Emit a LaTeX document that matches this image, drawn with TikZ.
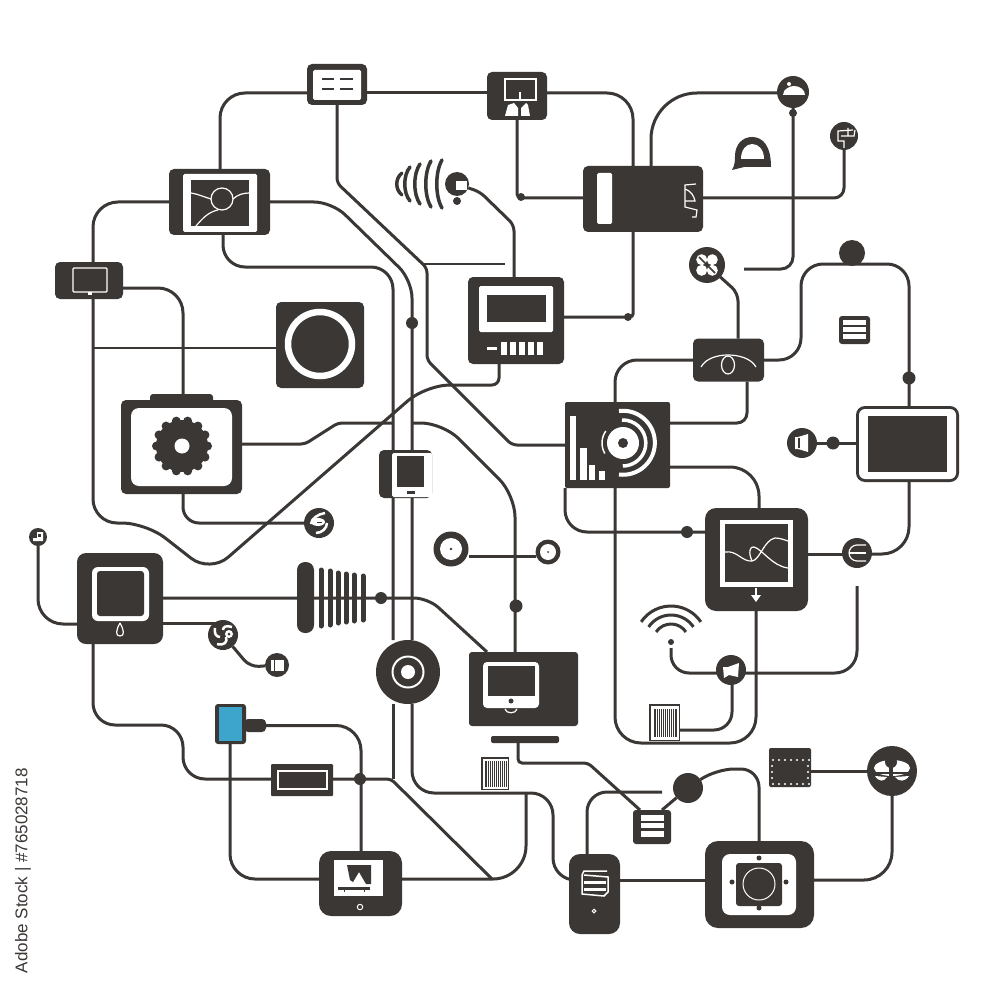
\documentclass[tikz,border=0pt]{standalone}
\usepackage{fontspec}
\newfontfamily\idfont{Liberation Sans}
\usetikzlibrary{backgrounds}
\definecolor{devdark}{RGB}{59,55,53}
\definecolor{devblue}{RGB}{61,165,204}
\tikzset{
  wire/.style={draw=devdark,line width=3pt},
  thinwire/.style={draw=devdark,line width=2pt},
  devbox/.style={fill=devdark,rounded corners=5pt,inner sep=0pt,outer sep=0pt},
  devdot/.style={circle,fill=devdark,inner sep=0pt,outer sep=0pt},
  inlay/.style={fill=white,rounded corners=1.5pt},
  hairline/.style={draw=white,line width=1.2pt},
}

\begin{document}
\begin{tikzpicture}[x=1pt,y=1pt,yscale=-1,xscale=1]
\useasboundingbox (0,0) rectangle (1000,1000);

% Devices
\node (top) [devbox,minimum width=60pt,minimum height=41pt] at (337,84.5) {};
\node (touch) [devbox,minimum width=60pt,minimum height=48pt] at (517,96) {};
\node (map) [devbox,minimum width=101pt,minimum height=66pt] at (219.5,202) {};
\node (hub) [devbox,minimum width=120pt,minimum height=66pt] at (643,199) {};
\node (small) [devbox,minimum width=68pt,minimum height=37pt] at (89,280.5) {};
\node (ringbox) [devbox,minimum width=88pt,minimum height=86pt] at (320,345) {};
\node (meter) [devbox,minimum width=96pt,minimum height=87pt] at (516,320.5) {};
\node (eye) [devbox,minimum width=71pt,minimum height=43pt] at (728.5,360) {};
\node (gearbox) [devbox,minimum width=121pt,minimum height=94pt] at (181.5,447) {};
\node (chart) [devbox,rounded corners=2pt,minimum width=105pt,minimum height=86pt] at (617.5,445) {};
\node (slate) [devbox,minimum width=53pt,minimum height=48pt] at (405.5,474) {};
\node (screen) [devbox,rounded corners=9pt,minimum width=103pt,minimum height=76pt] at (907.5,444) {};
\node (scope) [devbox,rounded corners=11pt,minimum width=103pt,minimum height=103pt] at (756.5,559.5) {};
\node (square) [devbox,rounded corners=9pt,minimum width=86pt,minimum height=91pt] at (120,598.5) {};
\node (monitor) [devbox,rounded corners=3pt,minimum width=109pt,minimum height=74pt] at (523.5,689) {};
\node (bluebox) [devbox,rounded corners=3pt,minimum width=31pt,minimum height=40pt] at (230.5,724) {};
\node (plug) [devbox,rounded corners=4pt,minimum width=22pt,minimum height=13pt] at (255,725.5) {};
\node (rect) [devbox,rounded corners=1pt,minimum width=62pt,minimum height=32pt] at (302,780) {};
\node (panel) [devbox,rounded corners=12pt,minimum width=83pt,minimum height=65pt] at (360.5,883.5) {};
\node (phone) [devbox,rounded corners=11pt,minimum width=51pt,minimum height=80pt] at (594.5,894) {};
\node (camera) [devbox,rounded corners=13pt,minimum width=109pt,minimum height=87pt] at (759.5,884.5) {};
\node (dotbox) [devbox,rounded corners=2pt,minimum width=42pt,minimum height=39pt] at (790,767.5) {};
\node (menu) [devbox,rounded corners=3pt,minimum width=38pt,minimum height=34pt] at (652,827) {};
\node (menusmall) [devbox,rounded corners=3pt,minimum width=31pt,minimum height=28pt] at (854.5,330) {};
\node (bar) [devbox,rounded corners=2pt,minimum width=68pt,minimum height=7pt] at (525,739.5) {};
\node (codeleft) [devbox,rounded corners=0pt,minimum width=28pt,minimum height=33pt] at (495,773.5) {};
\node (coderight) [devbox,rounded corners=0pt,minimum width=31pt,minimum height=37pt] at (664.5,722.5) {};

% Round parts
\node (disc) [devdot,minimum size=64pt] at (408,672) {};
\node (cap) [devdot,minimum size=32pt] at (793,92) {};
\node (capdot) [devdot,minimum size=8pt] at (793,113) {};
\node (pin) [devdot,minimum size=28pt] at (844,136) {};
\node (horn) [devdot,minimum size=24pt] at (457,184) {};
\node (horndot) [devdot,minimum size=8pt] at (457,201) {};
\node (clover) [devdot,minimum size=36pt] at (707,265) {};
\node (ball) [devdot,minimum size=26pt] at (852,253) {};
\node (balldot) [devdot,minimum size=13pt] at (909,378) {};
\node (speaker) [devdot,minimum size=30pt] at (802,443) {};
\node (speakerdot) [devdot,minimum size=13pt] at (833,443) {};
\node (meterdot) [devdot,minimum size=12pt] at (412,323) {};
\node (swirl) [devdot,minimum size=30pt] at (319,523) {};
\node (swirltwo) [devdot,minimum size=30pt] at (223,635) {};
\node (corner) [devdot,minimum size=18pt] at (38,537) {};
\node (stopper) [devdot,minimum size=24pt] at (277,665) {};
\node (vinyl) [devdot,minimum size=35pt] at (451,549) {};
\node (vinyltwo) [devdot,minimum size=25pt] at (548,552) {};
\node (chartdot) [devdot,minimum size=12pt] at (687,532) {};
\node (epin) [devdot,minimum size=30pt] at (857,553) {};
\node (combdot) [devdot,minimum size=12pt] at (381,598) {};
\node (monitordot) [devdot,minimum size=13pt] at (516,606) {};
\node (horntwo) [devdot,minimum size=30pt] at (731,670) {};
\node (wifidot) [devdot,minimum size=6pt] at (671,642) {};
\node (rectdot) [devdot,minimum size=12pt] at (360,779) {};
\node (blob) [devdot,minimum size=30pt] at (688,788) {};
\node (people) [devdot,minimum size=50pt] at (892,771) {};

% Free ends
\coordinate (joint) at (492,879);
\coordinate (stub) at (662,792);
\coordinate (hornstub) at (857,586);
\coordinate (capstub) at (744,269);
\coordinate (tapstub) at (505,264);

% Wires
\begin{scope}[on background layer]
\fill[white] (0,0) rectangle (1000,1000);
\draw[wire,rounded corners=25pt] (top.west |- 0,93) -- (220,93) -- (220,0 |- map.north);
\draw[wire] (top.east |- 0,93) -- (touch.west |- 0,93);
\draw[wire,rounded corners=5pt] (top.south) -- (337,183) -- (427,268) -- (427,360) -- (512,445) -- (chart.west |- 0,445);
\draw[thinwire] (423,264) -- (tapstub);
\draw[wire,rounded corners=18pt] (map.east |- 0,202) -- (332,202) -- (412,280) -- (412,0 |- disc.north);
\draw[wire,rounded corners=22pt] (412,0 |- disc.south) -- (412,793) -- (553,793) -- (553,880) -- (phone.west |- 0,880);
\draw[wire,rounded corners=22pt] (223,0 |- map.south) -- (223,267) -- (393,267) -- (393,0 |- disc.north);
\draw[wire] (393,0 |- disc.south) -- (393,779);
\draw[wire,rounded corners=4pt] (rect.east |- 0,779) -- (391,779) -- (joint);
\draw[wire,rounded corners=25pt] (93,0 |- small.north) -- (93,202) -- (map.west |- 0,202);
\draw[wire,rounded corners=25pt] (small.east |- 0,288) -- (183,288) -- (183,0 |- gearbox.north);
\draw[wire,rounded corners=24pt] (93,0 |- small.south) -- (93,523) -- (146,523) -- (210,573) -- (426,385) [rounded corners=7pt] -- (499,385) -- (499,0 |- meter.south);
\draw[thinwire] (93,348) -- (ringbox.west |- 0,348);
\draw[wire,rounded corners=4pt] (gearbox.east |- 0,444) -- (305,444) -- (338,423) -- (393,423);
\draw[wire,rounded corners=22pt] (412,423) -- (443,423) -- (515,495) -- (515,0 |- monitor.north);
\draw[wire,rounded corners=16pt] (183,0 |- gearbox.south) -- (183,523) -- (swirl);
\draw[wire,rounded corners=25pt] (corner) -- (38,624) -- (square.west |- 0,624);
\draw[wire,rounded corners=14pt] (square.east |- 0,598) -- (428,598) -- (487,0 |- monitor.north);
\draw[wire] (square.east |- 0,623) -- (swirltwo |- 0,623);
\draw[wire,rounded corners=9pt] (swirltwo) -- (250,667) -- (stopper);
\draw[wire,rounded corners=22pt] (93,0 |- square.south) -- (93,725) -- (183,725) -- (183,779) -- (rect.west |- 0,779);
\draw[wire,rounded corners=25pt] (plug.east) -- (361,725.5) -- (361,0 |- panel.north);
\draw[wire,rounded corners=25pt] (230,0 |- bluebox.south) -- (230,879) -- (panel.west |- 0,879);
\draw[wire,rounded corners=33pt] (panel.east |- 0,879) -- (526,879) -- (526,793);
\draw[wire,rounded corners=4pt] (518,0 |- bar.south) -- (518,763) -- (588,763) -- (640,0 |- menu.north);
\draw[wire] (662,0 |- menu.north) -- (blob);
\draw[wire,rounded corners=18pt] (blob) -- (716,769) -- (759,769) -- (759,0 |- camera.north);
\draw[wire,rounded corners=20pt] (587,0 |- phone.north) -- (587,792) -- (stub);
\draw[wire] (phone.east |- 0,880) -- (camera.west |- 0,880);
\draw[wire,rounded corners=28pt] (camera.east |- 0,880) -- (892,880) -- (people.south);
\draw[wire] (dotbox.east |- 0,771) -- (people.west |- 0,771);
\draw[wire,rounded corners=22pt] (615,0 |- chart.north) -- (615,360) -- (eye.west);
\draw[wire,rounded corners=26pt] (615,0 |- chart.south) -- (615,743) -- (756,743) -- (756,0 |- scope.south);
\draw[wire,rounded corners=22pt] (565,0 |- chart.south) -- (565,532) -- (scope.west |- 0,532);
\draw[wire,rounded corners=10pt] (chart.east |- 0,423) -- (747,423) -- (747,0 |- eye.south);
\draw[wire,rounded corners=29pt] (chart.east |- 0,467) -- (759,467) -- (759,0 |- scope.north);
\draw[wire] (scope.east |- 0,554) -- (epin |- 0,554);
\draw[wire,rounded corners=27pt] (epin |- 0,554) -- (909,554) -- (909,0 |- screen.south);
\draw[wire,rounded corners=22pt] (909,0 |- screen.north) -- (909,264) -- (801,264) -- (801,360) -- (eye.east);
\draw[wire] (screen.west |- 0,443) -- (speaker);
\draw[wire,rounded corners=8pt] (clover) -- (738,293) -- (738,0 |- eye.north);
\draw[wire,rounded corners=18pt] (671,648) -- (671,673) -- (horntwo |- 0,673);
\draw[wire,rounded corners=22pt] (horntwo |- 0,673) -- (857,673) -- (hornstub);
\draw[wire,rounded corners=18pt] (732,0 |- horntwo.south) -- (732,730) -- (coderight.east |- 0,730);
\draw[wire,rounded corners=46pt] (cap.west |- 0,93) -- (651,93) -- (651,0 |- hub.north);
\draw[wire,rounded corners=12pt] (cap.south) -- (793,269) -- (capstub);
\draw[wire,rounded corners=10pt] (pin.south) -- (844,198) -- (hub.east |- 0,198);
\draw[wire,rounded corners=26pt] (touch.east |- 0,93) -- (633,93) -- (633,0 |- hub.north);
\draw[wire,rounded corners=3pt] (633,0 |- hub.south) -- (633,317) -- (meter.east |- 0,317);
\draw[wire,rounded corners=4pt] (517,0 |- touch.south) -- (517,198) -- (hub.west |- 0,198);
\draw[wire,rounded corners=6pt] (horn) -- (480,192) -- (514,225) -- (514,0 |- meter.north);
\draw[wire] (vinyl.east |- 0,556) -- (vinyltwo.west |- 0,556);
\fill[devdark] (628,317) circle[radius=4];
\fill[devdark] (521,197) circle[radius=4];
\end{scope}

% Top box
\fill[inlay] (313,70) rectangle (361,100);
\draw[devdark,line width=2pt] (322,79) -- (334,79) (340,79) -- (353,79) (322,89) -- (334,89) (340,89) -- (353,89);
% Map
\fill[inlay] (183,174) rectangle (257,232);
\fill[devdark] (191,180) rectangle (249,226);
\draw[hairline] (222,199) circle[radius=11];
\draw[hairline] (191,193) .. controls (198,194) and (204,197) .. (211,199);
\draw[hairline] (233,199) .. controls (237,195) and (243,193) .. (249,193);
\draw[hairline] (218,210) .. controls (208,212) and (202,219) .. (196,226);
% Touch box
\draw[hairline] (505,79) rectangle (536,100);
\draw[white,line width=1.5pt] (520,92) -- (520,101);
\fill[white] (505,116) -- (508,105) -- (514,103) -- (518,108) -- (518,116) -- cycle;
\fill[white] (521,116) -- (521,108) -- (526,103) -- (528,105) -- (530,116) -- cycle;
% Hub
\fill[inlay] (597,173) rectangle (612,224);
\draw[hairline] (696,184) -- (685,185) -- (685,207) -- (697,210) -- (696,217) -- (692,217);
\draw[hairline] (685,189) .. controls (691,191) and (694,196) .. (695,201) -- (685,201);
% Dome
\fill[devdark] (732,170) .. controls (735,165) and (735,160) .. (735,156) .. controls (735,144) and (743,137) .. (752,137) .. controls (763,137) and (771,146) .. (771,167) -- (744,167) -- cycle;
\fill[white] (741,159) .. controls (741,150) and (746,144) .. (752,144) .. controls (759,144) and (764,150) .. (764,159) -- cycle;
% Cap circle
\fill[white] (783,95) .. controls (783,89) and (790,86) .. (794,86) .. controls (800,86) and (805,90) .. (805,95) -- cycle;
\fill[white] (789,84) circle[radius=2];
% Pin circle
\draw[hairline] (853,130) -- (838,131) -- (838,141) -- (844,141) -- (844,148);
\draw[hairline] (841,136) -- (854,136) -- (855,130) (848,136) -- (848,128);
% Horn
\fill[white] (456,181) rectangle (467,190);
\foreach \x/\h in {402/11,410/17,420/20,431/23,442/24}
  \draw[devdark,line width=3.5pt,line cap=round] (\x,184-\h) .. controls (\x-7,184-\h/2) and (\x-7,184+\h/2) .. (\x,184+\h);
% Meter
\fill[inlay] (479,286) rectangle (553,332);
\fill[devdark] (487,295) rectangle (546,322);
\fill[white] (487,347) rectangle (497,350);
\foreach \x in {501,510,519,528,537}
  \fill[white] (\x,342) rectangle (\x+6,355);
% Ring box
\draw[white,line width=6.5pt] (320,344) circle[radius=32];
% Clover
\foreach \a in {45,135,225,315}
  \fill[white] (707,265) ++(\a:7.5) circle[radius=5.5];
\draw[devdark,line width=1.5pt] (699,257) -- (715,273);
% Eye box
\draw[hairline] (701,367) .. controls (706,358) and (718,355) .. (728,355) .. controls (738,355) and (751,358) .. (756,367);
\draw[hairline] (728,365) ellipse[x radius=6.5,y radius=9];
% Small menu
\fill[white] (843,320) rectangle (866,325);
\fill[white] (843,327) rectangle (866,332);
\fill[white] (843,334) rectangle (866,339);
% Small box
\draw[hairline,fill=devdark,rounded corners=1pt] (73,268) rectangle (107,292);
\fill[white] (88,292) rectangle (92,295);
% Gear
\fill[inlay,rounded corners=8pt] (131,408) rectangle (232,486);
\fill[devdark,rounded corners=3pt] (150,394) rectangle (213,404);
\fill[devdark] (182,446) circle[radius=26];
\foreach \a in {0,...,13}
  \fill[devdark] (182,446) ++(\a*25.71:25.5) circle[radius=4.5];
\fill[white] (182,446) circle[radius=7.5];
% Chart
\fill[white] (570,416) rectangle (576,480);
\fill[white] (580,448) rectangle (587,480);
\fill[white] (589,465) rectangle (595,480);
\fill[white] (599,471) rectangle (605,480);
\fill[white] (623,443) circle[radius=16];
\fill[devdark] (623,443) circle[radius=5];
\draw[white,line width=1.5pt] (623,443) ++(150:21) arc[start angle=150,end angle=215,radius=21];
\draw[white,line width=4pt] (619,411) arc[start angle=263,end angle=457,radius=32];
\draw[white,line width=3.5pt] (622,420) arc[start angle=268,end angle=450,radius=23];
% Slate
\fill[inlay] (392,453) rectangle (432,497);
\fill[devdark] (397,456) rectangle (424,487);
\fill[devdark] (407,490.5) rectangle (415,493.5);
% Screen
\fill[inlay,rounded corners=6pt] (859,409) rectangle (956,479);
\fill[devdark] (868,416) rectangle (947,472);
% Speaker
\fill[white] (795,437) -- (798,437) -- (808,434) -- (808,452) -- (798,449) -- (795,449) -- cycle;
\fill[devdark] (798,438) rectangle (800,448);
% Second speaker
\fill[white] (723,667) -- (728,667) -- (739,663) -- (738,677) -- (729,675) -- (724,678) -- cycle;
% Vinyls
\fill[white] (451,549) circle[radius=11];
\fill[devdark] (451,549) circle[radius=1.3];
\fill[white] (548,552) circle[radius=8];
\fill[devdark] (548,552) circle[radius=1];
% Scope
\fill[white] (720,520) rectangle (793,587);
\fill[devdark] (725,524) rectangle (788,582);
\draw[hairline] (725,552) .. controls (737,550) and (742,562) .. (752,561) .. controls (760,560) and (764,540) .. (775,538) .. controls (780,538) and (785,540) .. (788,541);
\draw[hairline] (752,561) .. controls (748,552) and (750,546) .. (754,547) .. controls (762,549) and (772,566) .. (788,568);
\draw[white,line width=1.2pt] (756,588) -- (756,596);
\fill[white] (751,595) -- (761,595) -- (756,602) -- cycle;
% E pin
\draw[hairline] (866,545) -- (857,545) arc[start angle=270,end angle=90,radius=8] -- (866,561);
\draw[hairline] (849,553) -- (866,553);
% Square box
\fill[inlay,rounded corners=6pt] (92,567) rectangle (149,621);
\fill[devdark,rounded corners=3pt] (97,571) rectangle (144,616);
\draw[hairline] (120,623) .. controls (116,630) and (115,636) .. (120,636) .. controls (125,636) and (124,630) .. (120,623);
% Comb
\node (comb) [devbox,rounded corners=8pt,minimum width=17pt,minimum height=71pt] at (305.5,597.5) {};
\foreach \x/\h in {321/30,330/29,338/27,346/26,354/25,363/24}
  \draw[devdark,line width=5pt,line cap=round] (\x,598-\h+2) -- (\x,598+\h-2);
% Corner circle
\fill[white] (37,532) -- (43,532) -- (43,541) -- (33,541) -- (33,538) -- (37,538) -- cycle;
\fill[devdark] (38,534) rectangle (41,537);
% Swirls
\begin{scope}[shift={(319,523)}]
\draw[white,line width=2.5pt] (6,-10) .. controls (-1,-9) and (-8,-4) .. (-8,1);
\draw[white,line width=2.5pt] (-3,10) .. controls (3,10) and (8,5) .. (8,0);
\fill[white] (-1,-1) ellipse[x radius=7,y radius=4];
\fill[devdark] (-2,-1) rectangle (3,0);
\end{scope}
\begin{scope}[shift={(223,635)}]
\draw[white,line width=2.5pt] (-8,-7) .. controls (-9,-2) and (-7,2) .. (-3,2);
\draw[white,line width=2.5pt] (9,-8) .. controls (3,-10) and (0,-8) .. (0,-5);
\draw[white,line width=2.5pt] (-6,9) .. controls (1,11) and (5,7) .. (3,2);
\fill[white] (6,-1) circle[radius=4];
\fill[devdark] (6,-1) circle[radius=1.5];
\end{scope}
% Stopper
\fill[white] (271,660) rectangle (284,671);
\fill[devdark] (274,660) rectangle (275,671);
% Disc
\draw[white,line width=2pt] (408,672) circle[radius=15.5];
\fill[white] (408,672) circle[radius=7];
% Monitor
\fill[inlay,rounded corners=4pt] (483,662) rectangle (539,708);
\fill[devdark] (488,666) rectangle (535,696);
\fill[devdark] (511,701) circle[radius=2.5];
\draw[hairline] (505,709) .. controls (506,714) and (516,714) .. (517,709);
% Blue box
\fill[devblue] (219,707) rectangle (242,741);
% Rect
\draw[hairline] (278,771) rectangle (327,789);
% Code blocks
\fill[white] (482.5,758.5) rectangle (507.5,788.5);
\fill[devdark] (485,761) rectangle (507,787);
\foreach \x in {487,489,...,505}
  \draw[white,line width=0.35pt] (\x,761) -- (\x,787);
\fill[white] (650.5,705.5) rectangle (678.5,739.5);
\fill[devdark] (654,709) rectangle (677,737);
\foreach \x in {656,658,...,675}
  \draw[white,line width=0.35pt] (\x,709) -- (\x,737);
% Panel
\fill[white] (334,860) rectangle (383,896);
\fill[devdark] (347,865) -- (371,865) -- (371,884) -- (366,884) -- (359,872) -- (353,882) -- (350,880) -- cycle;
\fill[devdark] (338,887) rectangle (370,889.5);
\draw[devdark,line width=1pt] (344,889) -- (344,892) (364,889) -- (364,892);
\draw[white,line width=1pt] (360,907) circle[radius=2.7];
% Menu
\fill[white] (641,815) rectangle (664,821);
\fill[white] (641,823) rectangle (664,828);
\fill[white] (641,831) rectangle (664,837);
% Dotted box
\foreach \x in {773,779,...,809}
  \fill[white] (\x,760) circle[radius=1.2] (\x,784) circle[radius=1.2];
\foreach \y in {766,772,778}
  \fill[white] (772,\y) circle[radius=1.2] (808,\y) circle[radius=1.2];
% People
\fill[white] (892,768) ellipse[x radius=18,y radius=8];
\fill[devdark] (891,762) circle[radius=6];
\draw[devdark,line width=4pt] (891,762) -- (891,783);
\draw[devdark,line width=1.5pt] (872,773) -- (912,773);
\fill[white] (875,776) .. controls (879,782) and (884,782) .. (887,777) -- cycle;
\fill[white] (895,777) .. controls (899,782) and (905,782) .. (909,776) -- cycle;
% Phone
\draw[white,line width=1.5pt] (607,871) -- (584,871) -- (582,875) -- (582,894) -- (604,896) -- (608,892) -- (608,877) -- (584,875);
\fill[white] (584,881) rectangle (606,884);
\fill[white] (584,888) rectangle (606,891);
\draw[white,line width=1pt] (594,911) circle[radius=1.8];
% Camera
\fill[inlay,rounded corners=8pt] (722,854) rectangle (796,915);
\fill[devdark,rounded corners=3pt] (736,863) rectangle (782,906);
\draw[white,line width=1pt] (759,884) circle[radius=16];
\foreach \p in {(759,858),(759,908),(732,882),(786,882)}
  \fill[devdark] \p circle[radius=2.5];
% Wifi
\foreach \r in {18,27,36}
  \draw[devdark,line width=3pt] (671,642) ++(214:\r) arc[start angle=214,end angle=326,radius=\r];

% Stock number
\node (stockid) [rotate=90,anchor=east,inner sep=0pt,font=\idfont\fontsize{17}{17}\selectfont,text=devdark] at (23,768) {Adobe Stock | \#765028718};

\end{tikzpicture}
\end{document}
